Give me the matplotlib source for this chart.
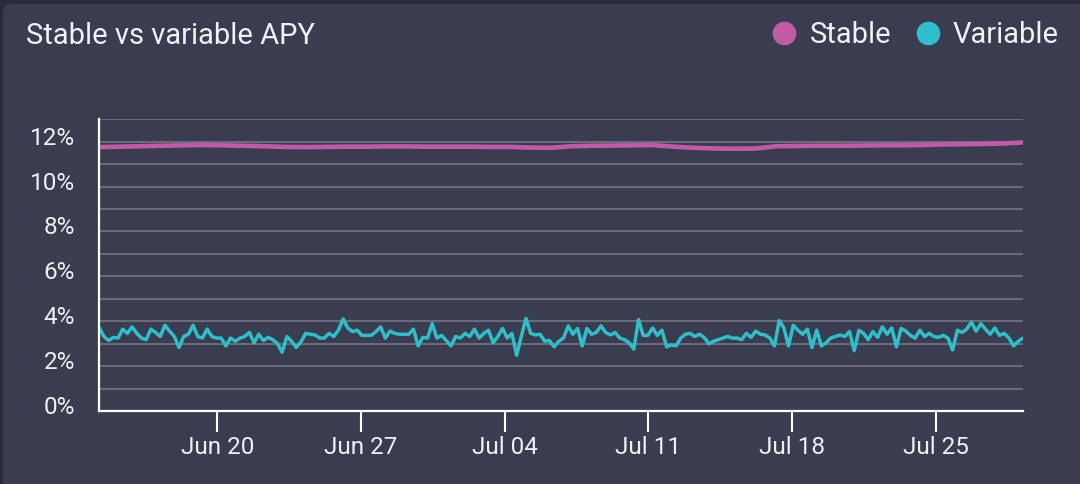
import matplotlib
matplotlib.use('Agg')
import matplotlib.pyplot as plt
import matplotlib.dates as mdates
import matplotlib.transforms as mtransforms
from matplotlib.patches import FancyBboxPatch
from matplotlib.lines import Line2D
from matplotlib.colors import LinearSegmentedColormap
from matplotlib.ticker import MultipleLocator, FuncFormatter
import numpy as np
import pandas as pd

plt.rcParams['font.family'] = ['Roboto', 'DejaVu Sans']

# chart data
title = 'Stable vs variable APY'
series_names = ['Stable', 'Variable']
series_colors = ['#c25aa6', '#2ebfca']

period_start = '2021-06-14 06:00'
period_end = '2021-07-29 06:00'

# daily stable APY (%), Jun 14 .. Jul 29
stable_apy = [11.76, 11.78, 11.80, 11.82, 11.84, 11.85, 11.84, 11.82, 11.80,
              11.77, 11.76, 11.77, 11.78, 11.78, 11.79, 11.79, 11.78,
              11.78, 11.78, 11.77, 11.77, 11.74, 11.73, 11.80, 11.82, 11.83,
              11.84, 11.85, 11.78, 11.73, 11.70, 11.69, 11.70, 11.80, 11.81,
              11.82, 11.82, 11.83, 11.84, 11.84, 11.85, 11.88, 11.89, 11.90,
              11.92, 11.97]

# variable APY (%), roughly every 5-6 hours over the same period
variable_apy = [
    3.70, 3.32, 3.14, 3.28, 3.25, 3.65, 3.46, 3.75, 3.46, 3.25, 3.18, 3.65,
    3.50, 3.32, 3.82, 3.56, 3.32, 2.83, 3.32, 3.42, 3.82, 3.32, 3.25, 3.65,
    3.32, 3.25, 3.25, 2.90, 3.25, 3.11,
    3.25, 3.32, 3.50, 3.04, 3.42, 3.14, 3.28, 3.18, 3.00, 2.62, 3.32, 3.11,
    2.83, 3.08, 3.46, 3.42, 3.39, 3.25, 3.25, 3.46, 3.32, 3.60, 4.10, 3.70,
    3.54, 3.60, 3.37, 3.37, 3.37, 3.54, 3.75, 3.25,
    3.56, 3.46, 3.42, 3.42, 3.42, 3.65, 2.90, 3.28, 3.25, 3.89, 3.25, 3.37,
    3.14, 2.90, 3.32, 3.25, 3.46, 3.32, 3.65, 3.25, 3.46, 3.60, 3.04, 3.32,
    3.68, 3.25, 3.46, 2.48, 3.32, 4.13, 3.46, 3.39, 3.42, 3.11,
    3.14, 2.86, 3.11, 3.25, 3.79, 3.42, 3.68, 2.90, 3.68, 3.42, 3.50, 3.79,
    3.50, 3.39, 3.50, 3.25, 3.18, 3.04, 2.76, 4.07, 3.37, 3.37, 3.70, 3.37,
    3.60, 2.86, 2.94, 2.90, 3.25, 3.42, 3.46, 3.32, 3.42,
    3.28, 3.00, 3.11, 3.18, 3.25, 3.32, 3.25, 3.25, 3.18, 3.46, 3.28, 3.56,
    3.42, 3.39, 3.25, 2.90, 4.03, 3.70, 2.90, 3.82, 3.60, 3.42, 3.65, 2.83,
    3.60, 2.90, 3.04, 3.25, 3.32, 3.39, 3.32, 3.54, 2.69, 3.60,
    3.46, 3.18, 3.54, 3.28, 3.75, 3.42, 3.70, 2.86, 3.68, 3.56, 3.37, 3.25,
    3.60, 3.32, 3.46, 3.32, 3.28, 3.37, 3.25, 2.72, 3.60, 3.50, 3.65, 3.96,
    3.56, 3.89, 3.65, 3.42, 3.70, 3.37, 3.46, 3.25, 2.90, 3.11, 3.25]

stable_dates = pd.date_range(period_start, periods=len(stable_apy), freq='D')
variable_dates = pd.date_range(period_start, period_end, periods=len(variable_apy))

W, H = 1080, 484
fig = plt.figure(figsize=(W / 100, H / 100), dpi=100, facecolor='#2a2d38')

# card background and header gradient line
bg = fig.add_axes([0, 0, 1, 1], zorder=0)
bg.axis('off')
bg.add_patch(FancyBboxPatch((3, 4), W + 20, H + 20,
                            boxstyle='round,pad=0,rounding_size=9',
                            fc='#393d4f', ec='none'))
grad = np.linspace(0, 1, 600).reshape(1, -1)
hdr_cmap = LinearSegmentedColormap.from_list('hdr', ['#3bb7c6', '#8e93b4', '#bc5ea2'])
bg.imshow(grad, cmap=hdr_cmap, extent=[3, W, 69.5, 67], aspect='auto')
bg.set_xlim(0, W)
bg.set_ylim(H, 0)

fig.text(26 / W, 1 - 36 / H, title, ha='left', va='center',
         fontsize=21, color='#f2f2f5')

handles = [Line2D([], [], ls='none', marker='o', markersize=17,
                  markerfacecolor=c, markeredgecolor='none') for c in series_colors]
leg = fig.legend(handles, series_names, loc='center right',
                 bbox_to_anchor=(1059 / W, 1 - 35 / H), ncol=2, frameon=False,
                 fontsize=21, handlelength=0.82, handletextpad=0.45,
                 columnspacing=0.85, borderpad=0, borderaxespad=0)
for t in leg.get_texts():
    t.set_color('#f2f2f5')

# main plot
ax = fig.add_axes([99.3 / W, (H - 411) / H, (1023 - 99.3) / W, (411 - 119.3) / H], zorder=1)
ax.patch.set_alpha(0)
ax.plot(stable_dates, stable_apy, color=series_colors[0], lw=3.3, zorder=3)
ax.plot(variable_dates, variable_apy, color=series_colors[1], lw=2.5, zorder=3)

ax.set_xlim(pd.Timestamp(period_start), pd.Timestamp(period_end))
ax.set_ylim(0, 13)
ax.yaxis.set_major_locator(MultipleLocator(2))
ax.yaxis.set_minor_locator(MultipleLocator(1))
ax.yaxis.set_major_formatter(FuncFormatter(lambda v, p: f'{v:.0f}%'))
ax.grid(which='both', axis='y', color='#686b7b', lw=1.5, zorder=1)
ax.xaxis.set_major_locator(mdates.WeekdayLocator(byweekday=mdates.SU))
ax.xaxis.set_major_formatter(mdates.DateFormatter('%b %d'))

for s in ['top', 'right']:
    ax.spines[s].set_visible(False)
for s in ['left', 'bottom']:
    ax.spines[s].set_color('white')
    ax.spines[s].set_linewidth(1.6)
    ax.spines[s].set_zorder(4)

ax.tick_params(axis='y', which='both', length=0, pad=17.5,
               labelsize=17.5, labelcolor='#f0f0f2')
ax.tick_params(axis='x', length=14.8, width=1.5, color='white', pad=3,
               labelsize=17.5, labelcolor='#f0f0f2')

# y labels sit a little above their grid lines
shift = mtransforms.ScaledTranslation(0, 6 / 100, fig.dpi_scale_trans)
for lbl in ax.get_yticklabels():
    lbl.set_transform(lbl.get_transform() + shift)

fig.savefig('out.png', dpi=100, facecolor=fig.get_facecolor())
